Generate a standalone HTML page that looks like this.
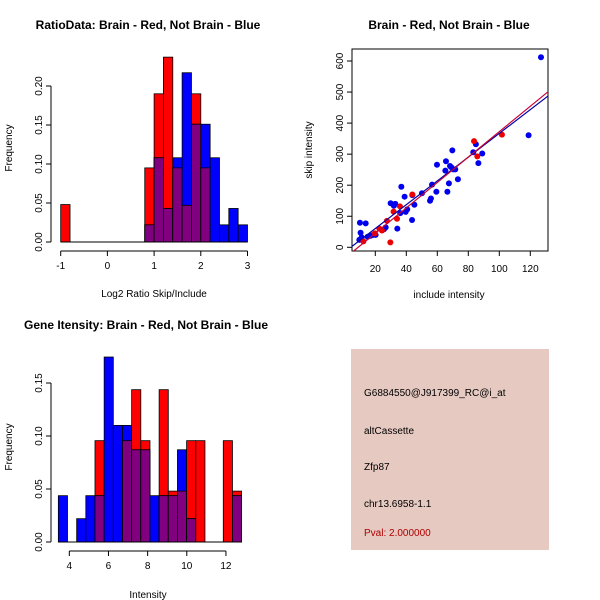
<!DOCTYPE html>
<html><head><meta charset="utf-8"><style>
html,body{margin:0;padding:0;background:#fff;}
svg{display:block;font-family:"Liberation Sans",sans-serif;}
</style></head><body>
<svg id="chart" width="600" height="600" viewBox="0 0 600 600" xmlns="http://www.w3.org/2000/svg">
<rect x="0" y="0" width="600" height="600" fill="#fff"/>
<text x="148" y="29" font-size="12" font-weight="bold" text-anchor="middle">RatioData: Brain - Red, Not Brain - Blue</text>
<text x="449" y="29" font-size="12" font-weight="bold" text-anchor="middle">Brain - Red, Not Brain - Blue</text>
<text x="146" y="329" font-size="12" font-weight="bold" text-anchor="middle">Gene Itensity: Brain - Red, Not Brain - Blue</text>
<text x="154" y="297" font-size="10" text-anchor="middle">Log2 Ratio Skip/Include</text>
<text transform="translate(12,148) rotate(-90)" font-size="10" text-anchor="middle">Frequency</text>
<text x="449" y="298" font-size="10" text-anchor="middle">include intensity</text>
<text transform="translate(312,150) rotate(-90)" font-size="10" text-anchor="middle">skip intensity</text>
<text x="148" y="598" font-size="10" text-anchor="middle">Intensity</text>
<text transform="translate(12,447) rotate(-90)" font-size="10" text-anchor="middle">Frequency</text>
<g>
<rect x="351" y="349" width="198" height="201" fill="#e6c9c1"/>
<text x="364" y="396" font-size="10">G6884550@J917399_RC@i_at</text>
<text x="364" y="434" font-size="10">altCassette</text>
<text x="364" y="470" font-size="10">Zfp87</text>
<text x="364" y="507" font-size="10">chr13.6958-1.1</text>
<text x="364" y="536" font-size="10" fill="#b00000">Pval: 2.000000</text>
</g>
</svg>
<script>
// Ratio histogram (bins width 0.2 starting at -1)
const ratioBreakStart = -1;
const ratioBinWidth = 0.2;
const ratioRed = [0.048,0,0,0,0,0,0,0,0,0.095,0.19,0.237,0.095,0.047,0.19,0.095,0,0,0,0];
const ratioBlue = [0,0,0,0,0,0,0,0,0,0.022,0.108,0.043,0.108,0.217,0.151,0.151,0.108,0.022,0.043,0.022];
const ratioXTicks = [-1,0,1,2,3];
const ratioYTicks = ["0.00","0.05","0.10","0.15","0.20"];
// Gene intensity histogram
const geneBreakStart = 3.44;
const geneBinWidth = 0.468;
const geneRed = [0,0,0,0,0.0956,0,0,0.0956,0.1437,0.0956,0,0.1437,0.048,0.048,0.0956,0.0956,0,0,0.0956,0.048];
const geneBlue = [0.0437,0,0.022,0.0437,0.0437,0.1745,0.11,0.11,0.087,0.087,0.0437,0.0437,0.0437,0.087,0.022,0,0,0,0,0.0437];
const geneXTicks = [4,6,8,10,12];
const geneYTicks = ["0.00","0.05","0.10","0.15"];
// Scatter
const blueX = [10.1,10.5,13.8,9.7,11.2,15.1,17.0,18.7,20.2,25.6,26.7,29.9,32.0,32.9,34.2,36.1,36.8,38.9,39.6,40.6,43.7,43.9,45.2,50.1,55.3,55.9,56.6,59.4,59.8,65.2,65.6,66.5,67.5,68.2,69.0,69.7,70.3,71.6,73.3,83.2,84.9,86.5,89.0,118.9,126.9];
const blueY = [79,47,77,24,32,34,37,40,40,58,64,142,134,140,60,110,195,163,114,122,88,168,137,174,150,157,202,179,266,247,277,179,206,262,258,312,251,251,219,306,332,271,302,361,612];
const redX = [12.3,19.8,22.6,24.3,27.5,29.7,31.8,34.0,35.9,43.9,83.7,85.8,101.7];
const redY = [19,45,60,54,85,16,115,92,132,170,342,293,363];
const scatterXTicks = [20,40,60,80,100,120];
const scatterYTicks = [0,100,200,300,400,500,600];

const svg = document.getElementById('chart');
const NS = 'http://www.w3.org/2000/svg';
function mk(tag, attrs, parent){
  const e = document.createElementNS(NS, tag);
  for (const k in attrs) e.setAttribute(k, attrs[k]);
  (parent||svg).appendChild(e);
  return e;
}

function drawHist(name, start, w, red, blue, xs, ys, xt, yt, xAxisY, yAxisX, yTickVals){
  const g = mk('g', {});
  
  
  for (let i=0;i<red.length;i++){
    const x0 = xs(start+i*w), x1 = xs(start+(i+1)*w);
    const r = red[i], b = blue[i], m = Math.min(r,b);
    if (r>0){
      const e = mk('rect', {x:x0,y:ys(r),width:x1-x0,height:ys(0)-ys(r),fill:'#ff0000',stroke:'#000','stroke-width':0.8}, g);
      
      
    }
    if (b>0){
      const e = mk('rect', {x:x0,y:ys(b),width:x1-x0,height:ys(0)-ys(b),fill:'#0000ff',stroke:'#000','stroke-width':0.8}, g);
      
      
    }
    if (m>0){
      const e = mk('rect', {x:x0,y:ys(m),width:x1-x0,height:ys(0)-ys(m),fill:'#800080',stroke:'#000','stroke-width':0.8}, g);
      
      
    }
  }
  mk('line',{x1:xs(start),x2:xs(start+red.length*w),y1:ys(0),y2:ys(0),stroke:'#000'},g);
  const xa = mk('g',{},g);
  
  
  mk('line',{x1:xs(xt[0]),x2:xs(xt[xt.length-1]),y1:xAxisY,y2:xAxisY,stroke:'#000'},xa);
  xt.forEach(v=>{
    mk('line',{x1:xs(v),x2:xs(v),y1:xAxisY,y2:xAxisY+5,stroke:'#000'},xa);
    const t = mk('text',{x:xs(v),y:xAxisY+18,'font-size':10,'text-anchor':'middle'},xa);
    t.textContent = v;
  });
  const ya = mk('g',{},g);
  
  
  mk('line',{x1:yAxisX,x2:yAxisX,y1:ys(0),y2:ys(yTickVals[yTickVals.length-1]),stroke:'#000'},ya);
  yTickVals.forEach((v,i)=>{
    mk('line',{x1:yAxisX,x2:yAxisX-5,y1:ys(v),y2:ys(v),stroke:'#000'},ya);
    const t = mk('text',{transform:`translate(${yAxisX-9},${ys(v)}) rotate(-90)`,'font-size':10,'text-anchor':'middle'},ya);
    t.textContent = yt[i];
  });
}

const rxs = v => 60.7 + (v+1)*46.7;
const rys = v => 242 - v/0.05*39;
drawHist('ratio-histogram', ratioBreakStart, ratioBinWidth, ratioRed, ratioBlue, rxs, rys, ratioXTicks, ratioYTicks, 251, 51, [0,0.05,0.10,0.15,0.20]);

const gxs = v => 69.3 + (v-4)*19.58;
const gys = v => 542 - v/0.05*53;
drawHist('gene-histogram', geneBreakStart, geneBinWidth, geneRed, geneBlue, gxs, gys, geneXTicks, geneYTicks, 551, 51, [0,0.05,0.10,0.15]);

const sxs = v => 375.3 + (v-20)*31/20;
const sys = v => 247.3 - v*0.3105;
const sg = mk('g',{});


const box = mk('rect',{x:352,y:49,width:196,height:202,fill:'none',stroke:'#000'},sg);


function fit(xs, ys){
  const n = xs.length; let mx=0,my=0;
  for (let i=0;i<n;i++){mx+=xs[i];my+=ys[i];}
  mx/=n; my/=n; let sxy=0,sxx=0;
  for (let i=0;i<n;i++){sxy+=(xs[i]-mx)*(ys[i]-my);sxx+=(xs[i]-mx)**2;}
  const b = sxy/sxx; return [my-b*mx, b];
}
const clip = mk('clipPath',{id:'sc'},sg);
mk('rect',{x:352,y:49,width:196,height:202},clip);
blueX.forEach((x,i)=>{
  const c = mk('circle',{cx:sxs(x),cy:sys(blueY[i]),r:3,fill:'#0000ee'},sg);
  
  
});
redX.forEach((x,i)=>{
  const c = mk('circle',{cx:sxs(x),cy:sys(redY[i]),r:3,fill:'#ee0000'},sg);
  
  
});
const [ba, bb] = fit(blueX, blueY);
const [ra, rb] = fit(redX, redY);
const bl = mk('line',{x1:sxs(4.7),y1:sys(ba+bb*4.7),x2:sxs(131.6),y2:sys(ba+bb*131.6),stroke:'#0000aa','stroke-width':1.2,'clip-path':'url(#sc)'},sg);


const rl = mk('line',{x1:sxs(4.7),y1:sys(ra+rb*4.7),x2:sxs(131.6),y2:sys(ra+rb*131.6),stroke:'#cc0033','stroke-width':1.2,'clip-path':'url(#sc)'},sg);


scatterXTicks.forEach(v=>{
  mk('line',{x1:sxs(v),x2:sxs(v),y1:251,y2:256,stroke:'#000'},sg);
  const t = mk('text',{x:sxs(v),y:272,'font-size':10,'text-anchor':'middle'},sg);
  t.textContent = v;
});
scatterYTicks.forEach(v=>{
  mk('line',{x1:352,x2:347,y1:sys(v),y2:sys(v),stroke:'#000'},sg);
  const t = mk('text',{transform:`translate(343,${sys(v)}) rotate(-90)`,'font-size':10,'text-anchor':'middle'},sg);
  t.textContent = v;
});
</script>
</body></html>
